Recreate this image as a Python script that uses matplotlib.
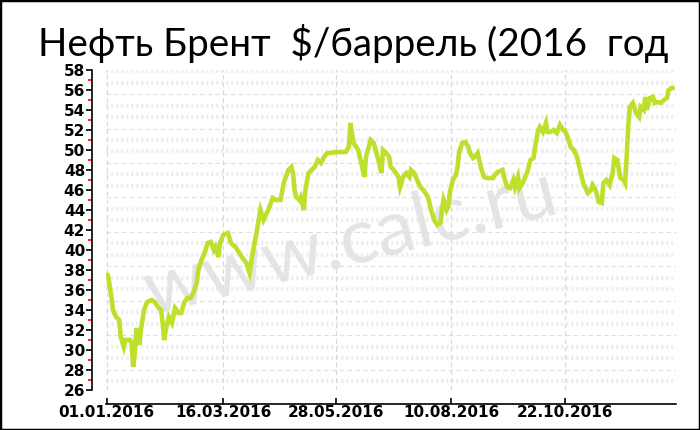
import matplotlib
matplotlib.use("Agg")
import matplotlib.pyplot as plt
from matplotlib.patches import Rectangle
import datetime as dt

# ---- data ----
start_date = "01.01.2016"
day_offsets = [0, 1, 3, 4, 6, 8, 9, 11, 12, 15, 16, 17, 18, 19, 20, 21, 22, 24, 26, 29,
               31, 33, 35, 36, 37, 38, 40, 42, 44, 45, 46, 48, 50, 52, 54, 56, 58, 59, 61, 63,
               65, 67, 69, 70, 72, 73, 75, 78, 80, 83, 87, 90, 92, 94, 96, 99, 101, 104, 107, 109,
               112, 114, 117, 119, 120, 121, 122, 124, 125, 127, 128, 130, 132, 134, 136, 138, 140, 142, 144, 148,
               151, 154, 156, 157, 159, 162, 164, 166, 167, 170, 172, 175, 177, 178, 180, 182, 183, 185, 188, 189,
               191, 193, 195, 196, 198, 200, 202, 204, 207, 209, 211, 213, 215, 216, 217, 219, 220, 221, 223, 225,
               226, 227, 229, 231, 233, 234, 236, 237, 239, 241, 243, 245, 249, 250, 252, 255, 256, 258, 260, 262,
               263, 265, 266, 268, 271, 273, 275, 276, 278, 279, 281, 283, 284, 286, 288, 290, 292, 294, 295, 297,
               299, 301, 303, 305, 307, 310, 312, 313, 315, 317, 319, 320, 322, 324, 326, 327, 329, 330, 331, 333,
               334, 335, 336, 337, 339, 341, 343, 344, 346, 347, 348, 350, 352, 353, 355, 357, 359, 361, 362, 364,
               366]
brent_prices = [37.7, 37.3, 35.3, 34.0, 33.3, 33.0, 31.3, 30.3, 31.0, 31.0, 30.7, 28.3, 29.7, 32.0, 32.0, 30.5, 32.0, 34.0, 34.8, 35.0,
                34.8, 34.3, 34.0, 32.7, 31.0, 32.0, 33.3, 32.7, 34.2, 34.0, 33.7, 33.7, 34.8, 35.2, 35.2, 35.8, 36.7, 38.0, 39.0, 39.7,
                40.7, 40.8, 40.0, 40.3, 39.3, 40.7, 41.5, 41.7, 40.7, 40.3, 39.3, 38.7, 37.7, 39.7, 41.3, 44.0, 43.0, 44.0, 45.2, 45.0,
                45.0, 46.7, 48.0, 48.3, 47.7, 46.0, 45.3, 45.0, 45.3, 44.0, 46.0, 47.7, 48.0, 48.3, 49.0, 48.7, 49.3, 49.7, 49.7, 49.8,
                49.8, 49.8, 50.3, 52.7, 50.7, 50.0, 48.7, 47.3, 49.3, 51.0, 50.7, 49.0, 47.7, 50.0, 49.7, 49.3, 48.3, 48.0, 47.3, 46.3,
                47.3, 47.7, 47.3, 48.0, 47.7, 47.0, 46.3, 46.0, 45.3, 44.0, 43.0, 42.5, 42.7, 44.0, 45.0, 44.0, 44.3, 45.7, 47.0, 47.5,
                48.3, 49.7, 50.7, 50.8, 50.3, 49.7, 49.2, 49.3, 49.7, 48.3, 47.3, 47.2, 47.2, 47.5, 47.8, 48.0, 47.3, 46.3, 46.2, 47.0,
                46.3, 47.3, 46.2, 46.7, 47.8, 49.0, 49.2, 50.3, 52.0, 52.3, 51.8, 52.7, 51.8, 51.8, 52.0, 51.7, 52.5, 52.0, 52.0, 51.3,
                50.3, 50.0, 49.3, 48.0, 46.7, 45.7, 46.0, 46.5, 46.0, 44.8, 44.7, 46.7, 47.0, 46.5, 47.7, 49.2, 49.0, 48.0, 47.2, 47.0,
                46.7, 49.3, 52.3, 54.3, 54.7, 53.7, 53.3, 54.3, 54.0, 55.3, 54.0, 55.2, 55.3, 54.7, 54.8, 54.7, 55.0, 55.2, 56.0, 56.2,
                56.2]
x_tick_labels = ["01.01.2016", "16.03.2016", "28.05.2016", "10.08.2016", "22.10.2016"]
y_ticks = list(range(26, 59, 2))
title_text = "Нефть Брент  $/баррель (2016  год"
watermark = "www.calc.ru"

# ---- figure ----
W, H = 700, 430
fig = plt.figure(figsize=(W / 100, H / 100), dpi=100)
fig.patch.set_facecolor("white")

ax_left, ax_right, ax_top, ax_bot = 106, 676, 70, 390
ax = fig.add_axes([ax_left / W, 1 - ax_bot / H, (ax_right - ax_left) / W, (ax_bot - ax_top) / H])
ax.set_facecolor("white")

d0 = dt.datetime.strptime(start_date, "%d.%m.%Y")
tick_pos = [(dt.datetime.strptime(s, "%d.%m.%Y") - d0).days for s in x_tick_labels]

ax.set_xlim(-0.5, 366.8)
ax.set_ylim(26, 58)

# background pattern rows
yv = 57.9
i = 0
while yv > 26:
    if i % 3 == 2:
        ax.axhline(yv, color="#dedede", lw=0.8, ls=(0, (4, 3)), zorder=0)
    else:
        ax.axhline(yv, color="#efefef", lw=3.0, ls=(0, (0.6, 0.6)), zorder=0)
    yv -= 1.15
    i += 1
for t in tick_pos:
    ax.axvline(t, color="#d6d6d6", lw=0.8, ls=(0, (4, 3)), zorder=0)

# watermark
ax.text(0.43, 0.46, watermark, transform=ax.transAxes, fontsize=56, color="#e4e4e4",
        rotation=14, ha="center", va="center", family="Lato", zorder=1)

ax.plot(day_offsets, brent_prices, color="#bde02c", lw=3.3, zorder=3,
        solid_joinstyle="miter", solid_capstyle="butt")

# spines
for s in ["top", "right"]:
    ax.spines[s].set_visible(False)
ax.spines["left"].set_position(("outward", 10))
ax.spines["bottom"].set_position(("outward", 10))
ax.spines["left"].set_linewidth(1.2)
ax.spines["bottom"].set_linewidth(1.2)
ax.spines["bottom"].set_bounds(-0.5, 366.8)

ax.set_yticks(y_ticks)
ax.set_yticklabels([str(v) for v in y_ticks], fontsize=11, fontweight="bold", family="DejaVu Sans")
ax.set_yticks(list(range(27, 58, 2)), minor=True)
ax.tick_params(axis="y", which="major", direction="out", length=4, width=1.2, pad=1)
ax.tick_params(axis="y", which="minor", direction="out", length=3, width=1.2, color="red")

ax.set_xticks(tick_pos)
ax.set_xticklabels(x_tick_labels, fontsize=11, fontweight="bold", family="DejaVu Sans")
ax.tick_params(axis="x", which="major", direction="in", length=4, width=1.2, pad=1)
ax.xaxis.set_minor_locator(matplotlib.ticker.NullLocator())

# title, sized to span the same width as the reference
t = fig.text(38 / W, 1 - 56 / H, title_text, fontsize=30, family="Lato", ha="left", va="baseline")
r = fig.canvas.get_renderer()
wpx = t.get_window_extent(renderer=r).width
t.set_fontsize(30 * 628 / wpx)

# border
fig.add_artist(Rectangle((0, 0), 1, 1, transform=fig.transFigure, fill=False,
                         edgecolor="black", lw=2.5))

fig.savefig("out.png", dpi=100)
